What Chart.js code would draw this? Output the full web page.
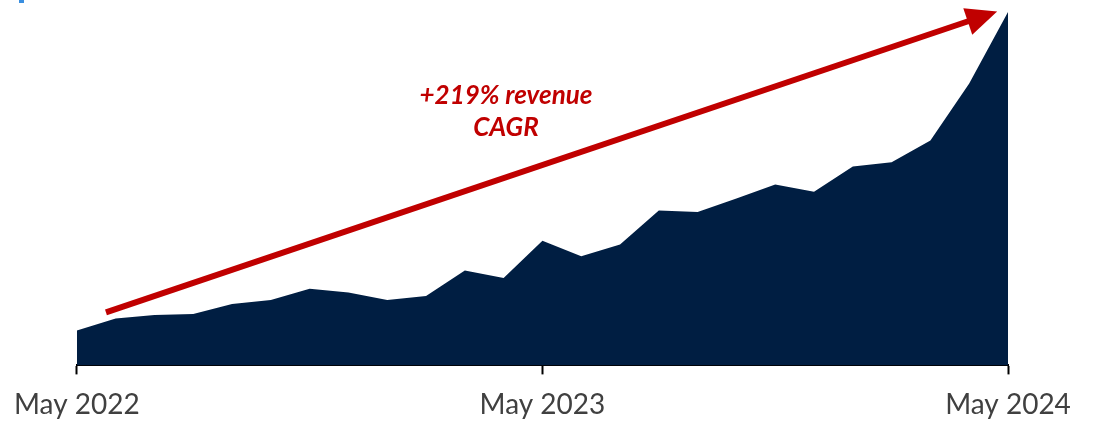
<!DOCTYPE html>
<html>
<head>
<meta charset="utf-8">
<script src="https://cdn.jsdelivr.net/npm/chart.js@4/dist/chart.umd.min.js"></script>
<style>
  html, body { margin: 0; padding: 0; background: #ffffff; }
  #wrap { width: 1099px; height: 423px; position: relative; }
</style>
</head>
<body>
<div id="wrap"><canvas id="c" width="1099" height="423"></canvas></div>
<script>
// Monthly categories, May 2022 – May 2024
const months = ["May 2022","Jun 2022","Jul 2022","Aug 2022","Sep 2022","Oct 2022","Nov 2022","Dec 2022",
  "Jan 2023","Feb 2023","Mar 2023","Apr 2023","May 2023","Jun 2023","Jul 2023","Aug 2023","Sep 2023",
  "Oct 2023","Nov 2023","Dec 2023","Jan 2024","Feb 2024","Mar 2024","Apr 2024","May 2024"];
// Revenue (relative index)
const revenue = [35, 47, 50.5, 51.5, 61.5, 65.3, 76.7, 73, 65.3, 69.3, 95, 87.3, 124.7, 109.3, 121,
  155, 153.5, 167, 181, 173.7, 199, 203.3, 225, 282, 353.5];
// Tick labels shown on the axis
const tickLabels = ["May 2022", "May 2023", "May 2024"];
// Annotation text
const annotationLines = ["+219% revenue", "CAGR"];

const annotationPlugin = {
  id: 'cagrArrow',
  afterDatasetsDraw(chart) {
    const ctx = chart.ctx;
    const xs = chart.scales.x, ys = chart.scales.y;
    // arrow anchored in data space
    const x1 = xs.getPixelForValue(0.75), y1 = ys.getPixelForValue(53);
    const x2 = xs.getPixelForValue(23.72), y2 = ys.getPixelForValue(354);
    const ang = Math.atan2(y2 - y1, x2 - x1);
    const headLen = 31, headHalf = 14;
    const bx = x2 - headLen * Math.cos(ang), by = y2 - headLen * Math.sin(ang);
    ctx.save();
    ctx.strokeStyle = '#C00000';
    ctx.fillStyle = '#C00000';
    ctx.lineWidth = 6;
    ctx.lineCap = 'butt';
    ctx.beginPath();
    ctx.moveTo(x1, y1);
    ctx.lineTo(bx + 2 * Math.cos(ang), by + 2 * Math.sin(ang));
    ctx.stroke();
    ctx.beginPath();
    ctx.moveTo(x2, y2);
    ctx.lineTo(bx + headHalf * Math.sin(ang), by - headHalf * Math.cos(ang));
    ctx.lineTo(bx - headHalf * Math.sin(ang), by + headHalf * Math.cos(ang));
    ctx.closePath();
    ctx.fill();
    // text
    ctx.font = 'italic bold 26px Lato, "Open Sans", sans-serif';
    ctx.textAlign = 'center';
    ctx.textBaseline = 'alphabetic';
    const tx = xs.getPixelForValue(11.06);
    ctx.fillText(annotationLines[0], tx, ys.getPixelForValue(261));
    ctx.fillText(annotationLines[1], tx, ys.getPixelForValue(229));
    // small blue fragment at top-left corner
    ctx.fillStyle = '#3A8FE0';
    ctx.fillRect(19, 0, 5, 3);
    ctx.restore();
  }
};

const shown = [0, 12, 24];
new Chart(document.getElementById('c'), {
  type: 'line',
  data: {
    labels: months,
    datasets: [{
      data: revenue,
      fill: 'origin',
      backgroundColor: '#001E42',
      borderColor: '#001E42',
      borderWidth: 0,
      pointRadius: 0,
      tension: 0
    }]
  },
  options: {
    responsive: false,
    animation: false,
    devicePixelRatio: 1,
    layout: { padding: { left: 76, right: 91, top: 12, bottom: -13 } },
    plugins: { legend: { display: false }, tooltip: { enabled: false } },
    scales: {
      x: {
        offset: false,
        border: { display: true, color: '#000000', width: 2 },
        grid: {
          drawOnChartArea: false,
          drawTicks: true,
          tickLength: 9,
          tickWidth: 2,
          color: (c) => shown.includes(c.index) ? '#000000' : 'rgba(0,0,0,0)'
        },
        ticks: {
          autoSkip: false,
          maxRotation: 0,
          padding: 14,
          color: '#404040',
          font: { family: 'Lato, "Open Sans", sans-serif', size: 28 },
          callback: (v, i) => {
            const k = shown.indexOf(i);
            return k >= 0 ? tickLabels[k] : '';
          }
        }
      },
      y: {
        display: false,
        min: 0,
        max: 353.5
      }
    }
  },
  plugins: [annotationPlugin]
});
</script>
</body>
</html>
